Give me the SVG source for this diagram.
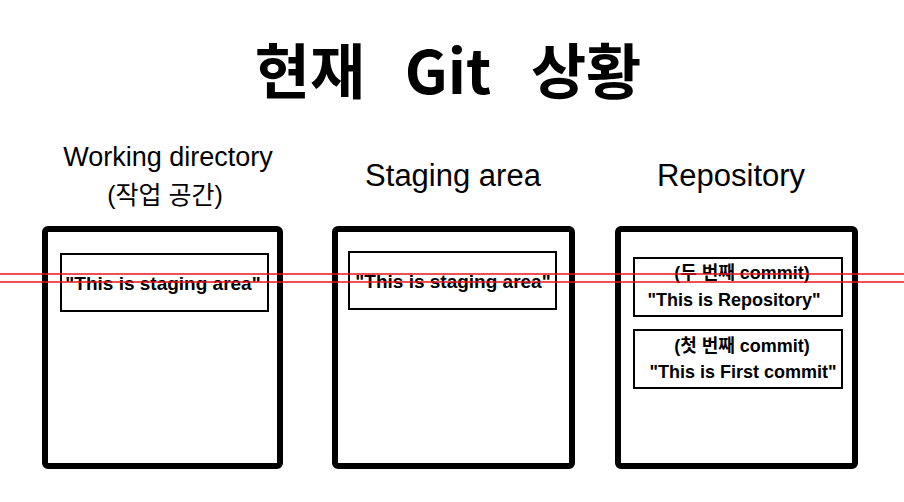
<svg xmlns="http://www.w3.org/2000/svg" width="904" height="502" viewBox="0 0 904 502">
<style>
.outer{fill:#fff;stroke:#000;stroke-width:6;stroke-linejoin:round}
.inner{fill:#fff;stroke:#000;stroke-width:2}
.t{font-family:"Liberation Sans","Noto Sans CJK KR",sans-serif;fill:#000;text-anchor:middle}
.title{font-size:60px;font-weight:bold;font-family:"Noto Sans CJK KR","Liberation Sans",sans-serif}
.head{font-size:30px}
.box{font-size:19px;font-weight:bold}
.rbox{font-size:18px;font-weight:bold}
.sub{font-size:18px;font-weight:bold}
.red{stroke:#e8141e;stroke-width:1.5}
</style>
<rect width="904" height="502" fill="#fff"/>
<text class="t title" x="448" y="94" word-spacing="26">현재 Git 상황</text>
<g id="working">
<text class="t head" x="168" y="166" style="font-size:27px">Working directory</text>
<text class="t head" x="165" y="204" style="font-size:25px">(작업 공간)</text>
<rect class="outer" x="45" y="229" width="235" height="237" rx="3"/>
<rect class="inner" x="61" y="254" width="207" height="57"/>
<text class="t box" x="163" y="290">"This is staging area"</text>
</g>
<g id="staging">
<text class="t head" x="453" y="186" style="font-size:31px">Staging area</text>
<rect class="outer" x="335" y="229" width="237" height="237" rx="3"/>
<rect class="inner" x="349" y="252" width="207" height="57"/>
<text class="t box" x="453" y="288">"This is staging area"</text>
</g>
<g id="repository">
<text class="t head" x="731" y="186" style="font-size:31px">Repository</text>
<rect class="outer" x="618" y="229" width="237" height="237" rx="3"/>
<rect class="inner" x="634" y="258" width="208" height="58"/>
<text class="t sub" x="742" y="279">(두 번째 commit)</text>
<text class="t rbox" x="734" y="306">"This is Repository"</text>
<rect class="inner" x="634" y="330" width="208" height="58"/>
<text class="t sub" x="742" y="352">(첫 번째 commit)</text>
<text class="t rbox" x="743" y="378">"This is First commit"</text>
</g>
<g id="connectors">
<line class="red" x1="0" y1="274" x2="904" y2="274"/>
<line class="red" x1="0" y1="282" x2="904" y2="282"/>
</g>
</svg>
